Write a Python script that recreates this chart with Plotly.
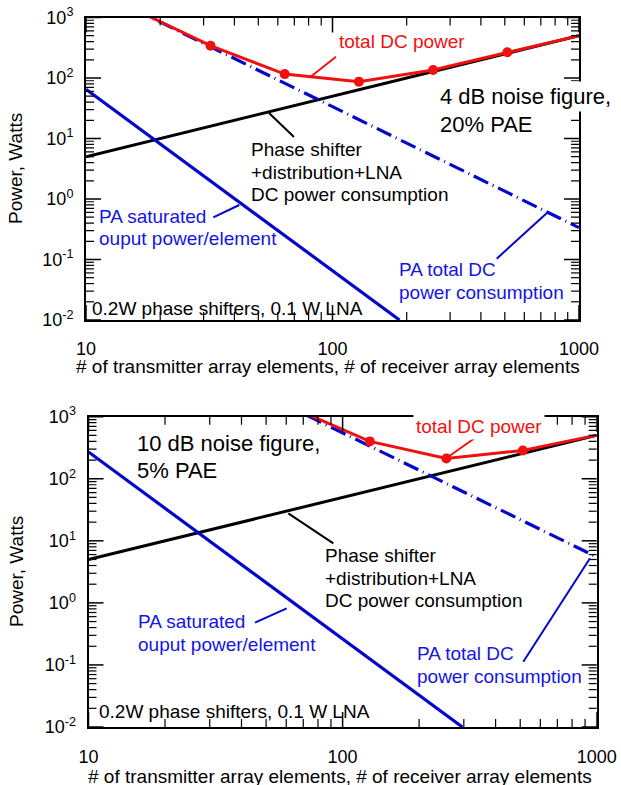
import plotly.graph_objects as go

W, H = 621, 785
FONT = "Liberation Sans, Arial, sans-serif"
BLUE = "#0505cc"
BLUE_TXT = "#1414e6"
RED = "#f01010"

# ---------------- data ----------------
x_tick_vals = [10, 100, 1000]
x_tick_labels = ["10", "100", "1000"]
y_tick_vals = [0.01, 0.1, 1, 10, 100, 1000]
y_tick_labels = ["10<sup>-2</sup>", "10<sup>-1</sup>", "10<sup>0</sup>",
                 "10<sup>1</sup>", "10<sup>2</sup>", "10<sup>3</sup>"]

# top panel: 4 dB noise figure, 20% PAE
top_ps_x = [10, 1000]
top_ps_y = [5, 500]
top_pasat_x = [10, 187]
top_pasat_y = [65, 0.01]
top_padc_x = [10, 1000]
top_padc_y = [3360, 0.336]
top_total_x = [16, 32, 64, 128, 256, 512, 1000]
top_total_y = [1320, 342, 116, 87, 136, 266, 500]

# bottom panel: 10 dB noise figure, 5% PAE
bot_ps_x = [10, 1000]
bot_ps_y = [5, 500]
bot_pasat_x = [10, 296]
bot_pasat_y = [270, 0.01]
bot_padc_x = [10, 1000]
bot_padc_y = [55000, 5.5]
bot_total_x = [64, 128, 256, 512, 1000]
bot_total_y = [1375, 400, 212, 286, 505]

X_RANGE = [1, 3]
Y_RANGE = [-2, 3]


def px(x):
    return x / W


def py(y):
    return 1 - y / H


fig = go.Figure()


def add_panel(xa, ya, ps_x, ps_y, sat_x, sat_y, dc_x, dc_y, tot_x, tot_y):
    fig.add_trace(go.Scatter(x=ps_x, y=ps_y, mode="lines", xaxis=xa, yaxis=ya,
                             line=dict(color="black", width=3), showlegend=False))
    fig.add_trace(go.Scatter(x=sat_x, y=sat_y, mode="lines", xaxis=xa, yaxis=ya,
                             line=dict(color=BLUE, width=3.2), showlegend=False))
    fig.add_trace(go.Scatter(x=dc_x, y=dc_y, mode="lines", xaxis=xa, yaxis=ya,
                             line=dict(color=BLUE, width=3.2, dash="16px,5px,1px,5px"),
                             showlegend=False))
    fig.add_trace(go.Scatter(x=tot_x, y=tot_y, mode="lines", xaxis=xa, yaxis=ya,
                             line=dict(color=RED, width=3), showlegend=False))
    fig.add_trace(go.Scatter(x=tot_x[1:-1], y=tot_y[1:-1], mode="markers", xaxis=xa, yaxis=ya,
                             marker=dict(color=RED, size=10), showlegend=False))


add_panel("x", "y", top_ps_x, top_ps_y, top_pasat_x, top_pasat_y,
          top_padc_x, top_padc_y, top_total_x, top_total_y)
add_panel("x2", "y2", bot_ps_x, bot_ps_y, bot_pasat_x, bot_pasat_y,
          bot_padc_x, bot_padc_y, bot_total_x, bot_total_y)


def main_axis(dom, anchor, rng, vals, labels, standoff):
    return dict(type="log", range=rng, domain=dom, anchor=anchor,
                showline=True, linecolor="black", linewidth=2, mirror=True,
                ticks="", tickmode="array", tickvals=vals, ticktext=labels,
                tickfont=dict(size=18, color="black", family=FONT),
                ticklabelstandoff=standoff, showgrid=False, zeroline=False)


T = dict(l=86, r=579, t=17.5, b=320)
B = dict(l=88.5, r=596.7, t=416.7, b=727)

fig.update_layout(
    width=W, height=H, margin=dict(l=0, r=0, t=0, b=0, autoexpand=False),
    paper_bgcolor="white", plot_bgcolor="white",
    font=dict(family=FONT, color="black"),
    xaxis=main_axis([px(T["l"]), px(T["r"])], "y", X_RANGE, x_tick_vals, x_tick_labels, 11),
    yaxis=main_axis([py(T["b"]), py(T["t"])], "x", Y_RANGE, y_tick_vals, y_tick_labels, 7),
    xaxis2=main_axis([px(B["l"]), px(B["r"])], "y2", X_RANGE, x_tick_vals, x_tick_labels, 12),
    yaxis2=main_axis([py(B["b"]), py(B["t"])], "x2", Y_RANGE, y_tick_vals, y_tick_labels, 7),
)

# ---- inward tick marks (major on tick values, minor at 2..9 within each decade) ----
shapes = []
MAJOR_LEN, MINOR_LEN = 15, 8


def add_ticks(xa, ya, box):
    wpx = box["r"] - box["l"]
    hpx = box["b"] - box["t"]
    xmin = [k * v for v in x_tick_vals[:-1] for k in range(2, 10)]
    ymin = [k * v for v in y_tick_vals[:-1] for k in range(2, 10)]
    for vals, ln in ((x_tick_vals, MAJOR_LEN), (xmin, MINOR_LEN)):
        f = ln / hpx
        for v in vals:
            for a, b in ((0, f), (1, 1 - f)):
                shapes.append(dict(type="line", xref=xa, yref=ya + " domain",
                                   x0=v, x1=v, y0=a, y1=b, layer="above",
                                   line=dict(color="black", width=1.5 if ln == MAJOR_LEN else 1.2)))
    for vals, ln in ((y_tick_vals, MAJOR_LEN), (ymin, MINOR_LEN)):
        f = ln / wpx
        for v in vals:
            for a, b in ((0, f), (1, 1 - f)):
                shapes.append(dict(type="line", xref=xa + " domain", yref=ya,
                                   x0=a, x1=b, y0=v, y1=v, layer="above",
                                   line=dict(color="black", width=1.5 if ln == MAJOR_LEN else 1.2)))


add_ticks("x", "y", T)
add_ticks("x2", "y2", B)

ann = []


def txt(x, y, s, size=19, color="black", anchor="left", bg=None, angle=0):
    d = dict(x=px(x), y=py(y), xref="paper", yref="paper", text=s, showarrow=False,
             xanchor=anchor, yanchor="middle", textangle=angle,
             font=dict(size=size, color=color, family=FONT))
    if bg:
        d.update(bgcolor=bg, borderpad=2)
    ann.append(d)


# axis titles
txt(328, 366.7, "# of transmitter array elements, # of receiver array elements", anchor="center")
txt(340, 776.7, "# of transmitter array elements, # of receiver array elements", anchor="center")
txt(16, 169, "Power, Watts", anchor="center", angle=-90)
txt(16, 572, "Power, Watts", anchor="center", angle=-90)

# top panel labels
txt(337, 41.7, "total DC power", color=RED)
txt(437, 96.7, "4 dB noise figure,", size=22, bg="white")
txt(437, 125, "20% PAE", size=22, bg="white")
txt(249.3, 150, "Phase shifter")
txt(249.3, 173, "+distribution+LNA")
txt(249.3, 195, "DC power consumption")
txt(97, 216.7, "PA saturated", color=BLUE_TXT)
txt(97, 238.5, "ouput power/element", color=BLUE_TXT)
txt(397.3, 269.3, "PA total DC", color=BLUE_TXT)
txt(397.3, 292.7, "power consumption", color=BLUE_TXT)
txt(90, 308, "0.2W phase shifters, 0.1 W LNA")

# bottom panel labels
txt(412.7, 426.7, "total DC power", color=RED, bg="white")
txt(135, 443.3, "10 dB noise figure,", size=22)
txt(135, 470, "5% PAE", size=22)
txt(323.3, 555, "Phase shifter")
txt(323.3, 578, "+distribution+LNA")
txt(323.3, 600.5, "DC power consumption")
txt(136, 621.7, "PA saturated", color=BLUE_TXT)
txt(136, 644.3, "ouput power/element", color=BLUE_TXT)
txt(415, 653.3, "PA total DC", color=BLUE_TXT)
txt(415, 676.7, "power consumption", color=BLUE_TXT)
txt(96.7, 711.7, "0.2W phase shifters, 0.1 W LNA")

fig.update_layout(annotations=ann)


def seg(x0, y0, x1, y1, color, w=2):
    shapes.append(dict(type="line", xref="paper", yref="paper",
                       x0=px(x0), y0=py(y0), x1=px(x1), y1=py(y1),
                       line=dict(color=color, width=w)))


# top pointers
seg(336, 56.7, 310, 77.3, RED)
seg(269, 113, 294, 137, "black")
seg(213.3, 217.3, 239.3, 205, BLUE)
seg(496.7, 258.7, 548.3, 211.7, BLUE)
# bottom pointers
seg(476.7, 436.7, 448.3, 456.7, RED)
seg(288.3, 513.3, 333.3, 543.3, "black")
seg(255, 622.7, 286.7, 608.3, BLUE)
seg(523.3, 661.7, 590, 558.3, BLUE)

fig.update_layout(shapes=shapes)

fig.write_html("out.html", config={"displayModeBar": False},
               post_script="document.body.style.margin='0';")
